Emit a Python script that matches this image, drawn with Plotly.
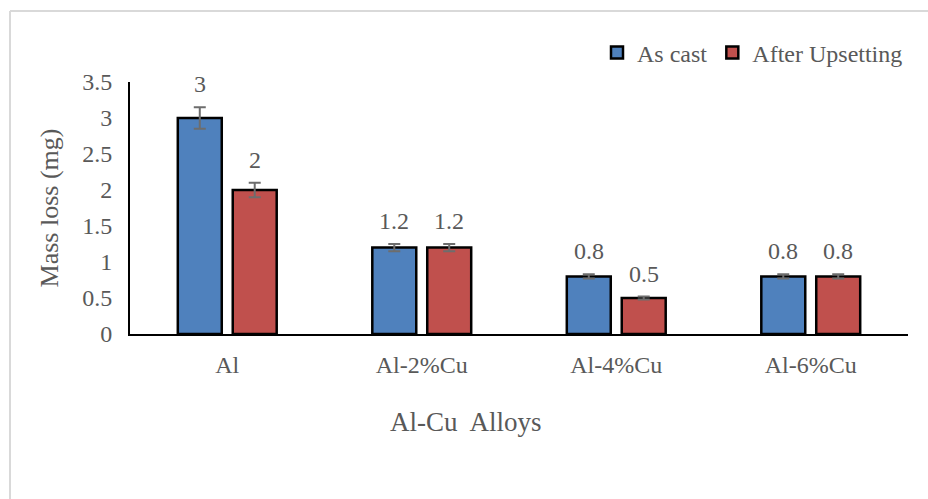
import plotly.graph_objects as go

categories = ["Al", "Al-2%Cu", "Al-4%Cu", "Al-6%Cu"]
as_cast = [3, 1.2, 0.8, 0.8]
after_upsetting = [2, 1.2, 0.5, 0.8]
as_cast_err = [0.15, 0.05, 0.03, 0.03]
after_err = [0.1, 0.05, 0.02, 0.03]
y_ticks = [0, 0.5, 1, 1.5, 2, 2.5, 3, 3.5]

FONT = "Liberation Serif, Times New Roman, serif"
GREY = "#595959"

W, H = 928, 499
ML, MR, MT, MB = 130, 20, 82, 165
plot_w = W - ML - MR
plot_h = H - MT - MB

fig = go.Figure()
fig.add_trace(go.Bar(
    name="As cast", x=categories, y=as_cast,
    marker=dict(color="#4f81bd", line=dict(color="black", width=2.5)),
    error_y=dict(type="data", array=as_cast_err, color="#6d6d6d", thickness=2, width=6),
))
fig.add_trace(go.Bar(
    name="After Upsetting", x=categories, y=after_upsetting,
    marker=dict(color="#c0504d", line=dict(color="black", width=2.5)),
    error_y=dict(type="data", array=after_err, color="#6d6d6d", thickness=2, width=6),
))

# value labels above error bars
cat_w = plot_w / len(categories)
bargap = 0.435
slot = cat_w * (1 - bargap) / 2
annotations = []
for vals, errs, sign in [(as_cast, as_cast_err, -1), (after_upsetting, after_err, 1)]:
    for c, v, e in zip(categories, vals, errs):
        annotations.append(dict(
            x=c, y=v + e, xref="x", yref="y", text=f"{v:g}", showarrow=False,
            xshift=sign * slot / 2, yshift=23, yanchor="middle",
            font=dict(family=FONT, size=24, color=GREY),
        ))
annotations.append(dict(
    x=(466 - ML) / plot_w, y=-(422 - (MT + plot_h)) / plot_h, xref="paper", yref="paper",
    text="Al-Cu  Alloys", showarrow=False, xanchor="center", yanchor="middle",
    font=dict(family=FONT, size=27, color=GREY),
))

bx = -120 / plot_w
by = 1 + 71 / plot_h
fig.update_layout(
    width=W, height=H,
    margin=dict(l=ML, r=MR, t=MT, b=MB),
    paper_bgcolor="white", plot_bgcolor="white",
    barmode="group", bargap=bargap, bargroupgap=0.2,
    font=dict(family=FONT, color=GREY),
    showlegend=True,
    legend=dict(orientation="h", x=1.0, xanchor="right", y=1 + 29 / plot_h, yanchor="middle",
                font=dict(family=FONT, size=24, color=GREY), traceorder="normal",
                itemwidth=30),
    annotations=annotations,
    shapes=[
        dict(type="line", xref="paper", yref="paper", x0=bx, x1=1.03, y0=by, y1=by,
             line=dict(color="#d9d9d9", width=2)),
        dict(type="line", xref="paper", yref="paper", x0=bx, x1=bx, y0=-0.8, y1=by,
             line=dict(color="#d9d9d9", width=2)),
    ],
)
fig.update_yaxes(
    range=[0, 3.5], tickvals=y_ticks, ticktext=[f"{t:g}" for t in y_ticks],
    showgrid=False, zeroline=False, showline=True, linecolor="black", linewidth=2,
    ticks="", ticklabelstandoff=11, tickfont=dict(family=FONT, size=24, color=GREY),
    title=dict(text="Mass loss (mg)", font=dict(family=FONT, size=26, color=GREY), standoff=16),
)
fig.update_xaxes(
    showgrid=False, showline=True, linecolor="black", linewidth=2, ticks="",
    ticklabelstandoff=8,
    tickfont=dict(family=FONT, size=24, color=GREY),
)

fig.write_html(
    "out.html",
    config={"displayModeBar": False},
    post_script="document.body.style.margin='0';document.body.style.overflow='hidden';",
)
